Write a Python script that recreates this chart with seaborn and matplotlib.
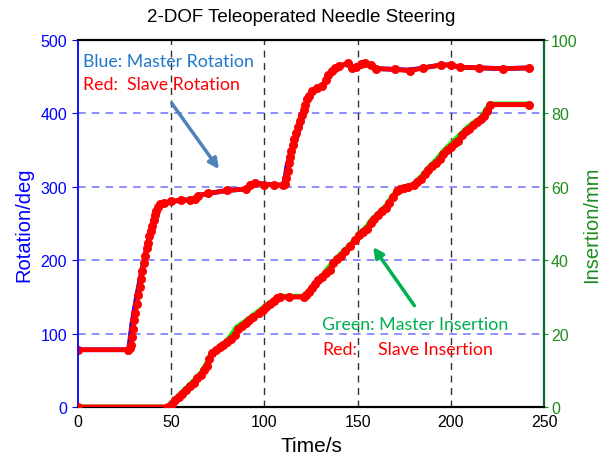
import matplotlib
matplotlib.use("Agg")
import matplotlib.pyplot as plt
import seaborn as sns
import pandas as pd

# ---------------- data ----------------
master_rot_t = [0, 26.5, 27, 27.5, 29, 31.5, 34, 36, 38.5, 41, 43.5, 46, 50, 55, 60, 63, 64, 70, 80, 90, 92, 95,
                100, 105, 110, 111, 112, 114.5, 118, 121, 123, 125, 128, 132, 134, 137, 140, 145, 147, 149, 152,
                154, 157, 160, 170, 178, 185, 195, 200, 205, 215, 228, 242]
master_rot_v = [78, 78, 74, 85, 115, 152, 183, 207, 235, 258, 274, 277, 279, 282, 282, 284, 288, 291, 295, 297, 303, 306,
                303, 303, 302, 310, 328, 347, 372, 401, 418, 429, 435, 440, 452, 461, 465, 467, 461, 463, 468,
                470, 466, 461, 460, 459, 462, 466, 466, 463, 462, 461, 462]

slave_rot_t = [0, 27, 28, 28.5, 29, 29.5, 30, 30.7, 31.5, 32.3, 33, 33.7, 34.5, 35.3, 36, 36.8, 37.5, 38.3, 39, 39.8,
               40.6, 41.3, 42, 43, 44, 46, 50, 55, 60, 63, 64.5, 70, 80, 90, 92.5, 95, 100, 105, 110, 111, 111.7,
               112.4, 113, 113.7, 114.5, 115.3, 116, 117, 118, 119, 120, 121, 122, 123, 124, 125.5, 128, 131, 133,
               134, 136, 138, 140, 145, 147, 149, 152, 154, 157, 160, 170, 178, 185, 195, 200, 205, 215, 228, 242]
slave_rot_v = [78, 78, 80, 84, 96, 106, 118, 128, 140, 152, 163, 174, 185, 196, 206, 216, 224, 233, 240, 247,
               255, 262, 267, 272, 276, 278, 280, 282, 282, 283, 288, 291, 295, 297, 302, 305, 303, 303, 302, 304, 312,
               322, 332, 340, 349, 357, 365, 373, 381, 390, 398, 404, 412, 419, 424, 430, 435, 438, 445,
               452, 458, 462, 465, 468, 462, 463, 467, 469, 466, 461, 460, 458, 462, 466, 466, 463, 462, 461, 462]

master_ins_t = [0, 48, 50, 54, 58, 62, 66, 69, 71, 74, 78, 81, 85, 88, 92, 97, 101, 105, 108, 113, 121, 124, 127,
                131, 134, 137, 141, 146, 151, 155, 157, 161, 165, 169, 173, 177, 180, 184, 188, 192, 196, 199,
                203, 206, 209, 213, 216, 219, 221, 242]
master_ins_v = [0, 0, 1.2, 3.2, 5.2, 7.2, 9.4, 12, 14.3, 15.8, 17.3, 18.8, 21.8, 22.8, 24.3, 26.2, 27.8, 29.2, 30.2,
                30.2, 30.2, 31.8, 33.8, 35.8, 37.8, 39.8, 41.8, 44.3, 47.3, 49.3, 50.8, 52.8, 54.8, 57.8, 59.8,
                60.2, 60.8, 62.8, 65.3, 67.3, 69.8, 71.3, 73.3, 74.8, 76.3, 77.8, 78.8, 81.3, 82.6, 82.6]

slave_ins_t = [0, 48.5, 50.5, 52, 54, 56, 58, 60, 62, 64, 66, 67.5, 69, 70.5, 72, 74, 76, 78, 80, 82, 84, 86, 88, 90,
               92, 94, 97, 99, 101, 103, 105, 107, 108.5, 113, 121, 122.5, 124, 125.5, 127, 129, 131, 133, 135, 137,
               139, 141, 143.5, 146, 148.5, 151, 153, 155, 157, 159, 161, 163, 165, 167, 169, 171, 173, 175, 177,
               180, 182, 184, 186, 188, 190, 192, 194, 196, 198, 200, 202, 204, 206, 208, 210, 212, 214, 216, 218,
               219.5, 221, 242]
slave_ins_v = [0, 0, 0.8, 1.8, 2.8, 3.6, 4.6, 5.6, 6.6, 7.8, 8.8, 10, 11.2, 13.2, 14.6, 15.4, 16.4, 17, 17.8, 18.4,
               19.6, 21.2, 22.2, 23, 23.8, 24.6, 25.6, 26.4, 27.2, 28, 28.8, 29.6, 30, 30, 30, 30.6, 31.2, 32.4, 33.4,
               34.6, 35.4, 36.4, 37.4, 39.2, 40.2, 41.2, 42.4, 43.8, 45.4, 46.8, 47.8, 48.6, 50.2, 51.2, 52.2, 53.4,
               54.2, 55.6, 57.2, 58.8, 59.4, 59.8, 60, 60.4, 61.4, 62.2, 63.4, 64.6, 65.6, 66.6, 67.6, 69, 70, 70.8,
               71.8, 72.6, 74.2, 75.2, 75.8, 76.8, 77.6, 78.4, 79.2, 80.6, 82.4, 82.4]

x_ticks = [0, 50, 100, 150, 200, 250]
rot_ticks = [0, 100, 200, 300, 400, 500]
ins_ticks = [0, 20, 40, 60, 80, 100]

# ---------------- figure ----------------
sns.set_style("white")
plt.rcParams['font.family'] = ['Liberation Sans', 'DejaVu Sans']
plt.rcParams['text.color'] = 'black'
plt.rcParams['axes.labelcolor'] = 'black'

fig = plt.figure(figsize=(6.04, 4.60), dpi=100)
ax = fig.add_axes([78/604, 1-408/460, (544-78)/604, (408-41)/460])
ax2 = ax.twinx()

BLUE = "#0000FF"
GREEN_TXT = "#1E8C1E"
GREEN_SPINE = "#0B6B2E"

# grid lines
for v in [100, 200, 300, 400]:
    ax.axhline(v, color="#6F6FFF", lw=1.1, ls=(0, (5, 4)), zorder=0)
for v in [50, 100, 150, 200]:
    ax.axvline(v, color="#333333", lw=1.0, ls=(0, (5, 4)), zorder=0)

df_mr = pd.DataFrame({"t": master_rot_t, "v": master_rot_v})
df_sr = pd.DataFrame({"t": slave_rot_t, "v": slave_rot_v})
df_mi = pd.DataFrame({"t": master_ins_t, "v": master_ins_v})
df_si = pd.DataFrame({"t": slave_ins_t, "v": slave_ins_v})

sns.lineplot(data=df_mr, x="t", y="v", ax=ax, color=BLUE, lw=3.4, sort=False, estimator=None, zorder=2)
sns.lineplot(data=df_sr, x="t", y="v", ax=ax, color="red", lw=3.4, sort=False, estimator=None, zorder=3,
             marker="o", markersize=6.5, markeredgewidth=0, solid_capstyle="round")

sns.lineplot(data=df_mi, x="t", y="v", ax=ax2, color="#00FF00", lw=3.4, sort=False, estimator=None, zorder=2)
sns.lineplot(data=df_si, x="t", y="v", ax=ax2, color="red", lw=3.6, sort=False, estimator=None, zorder=3,
             marker="o", markersize=6.5, markeredgewidth=0, solid_capstyle="round")

ax.set_xlim(0, 250)
ax.set_ylim(0, 500)
ax2.set_ylim(0, 100)
ax.set_xticks(x_ticks)
ax.set_yticks(rot_ticks)
ax2.set_yticks(ins_ticks)

ax.set_xlabel("Time/s", fontsize=15, labelpad=5, color="black")
ax.set_ylabel("Rotation/deg", fontsize=14.5, color=BLUE, labelpad=5)
ax2.set_ylabel("Insertion/mm", fontsize=14.5, color=GREEN_TXT, labelpad=3)
fig.text(301/604, 1-18/460, "2-DOF Teleoperated Needle Steering", fontsize=13.5, color="black",
         ha="center", va="center")

ax.tick_params(axis="x", direction="in", length=4, labelsize=11.5, colors="black", pad=5)
ax.tick_params(axis="y", direction="out", length=4, labelsize=11.5, colors=BLUE, pad=4)
ax2.tick_params(axis="y", direction="out", length=3, labelsize=11.5, colors=GREEN_TXT, pad=2)

for sp in ["top", "bottom"]:
    ax2.spines[sp].set_color("black")
    ax2.spines[sp].set_linewidth(1.6)
ax2.spines["left"].set_color(BLUE)
ax2.spines["left"].set_linewidth(1.3)
ax2.spines["right"].set_color(GREEN_SPINE)
ax2.spines["right"].set_linewidth(1.6)
for sp in ax.spines.values():
    sp.set_visible(False)

# annotations (text and arrows)
TXT_FONT = ['Lato', 'DejaVu Sans']
ax.text(2.7, 471, "Blue: Master Rotation", color="#1F78C8", fontsize=12.8, family=TXT_FONT, va="center", ha="left")
ax.text(2.7, 440, "Red:  Slave Rotation", color="red", fontsize=12.8, family=TXT_FONT, va="center", ha="left")
ax.annotate("", xy=(76.5, 321), xytext=(49.4, 417),
            arrowprops=dict(arrowstyle="-|>,head_length=0.6,head_width=0.3", color="#4F81BD", lw=2.5))

ax.text(131, 113, "Green: Master Insertion", color="#00B050", fontsize=12.8, family=TXT_FONT, va="center", ha="left")
ax.text(131, 79, "Red:", color="red", fontsize=12.8, family=TXT_FONT, va="center", ha="left")
ax.text(161, 79, "Slave Insertion", color="red", fontsize=12.8, family=TXT_FONT, va="center", ha="left")
ax.annotate("", xy=(157.5, 221), xytext=(181.3, 135),
            arrowprops=dict(arrowstyle="-|>,head_length=0.6,head_width=0.3", color="#00B050", lw=2.5))

fig.savefig("out.png", dpi=100)
